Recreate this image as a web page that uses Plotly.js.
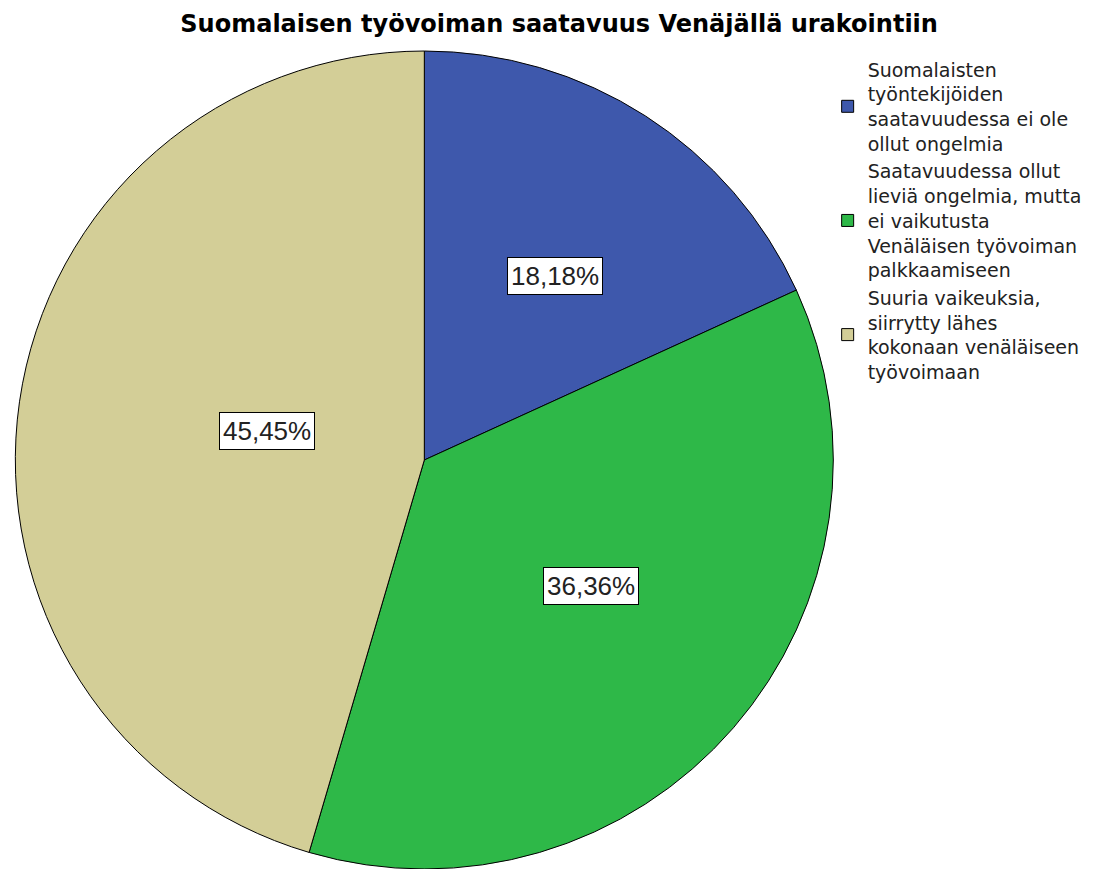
<!DOCTYPE html>
<html>
<head>
<meta charset="utf-8">
<script src="https://cdn.plot.ly/plotly-3.0.1.min.js"></script>
<style>html,body{margin:0;padding:0;background:#fff;}#chart{width:1105px;height:869px;}</style>
</head>
<body>
<div id="chart"></div>
<script>
const categories = [
  "Suomalaisten<br>työntekijöiden<br>saatavuudessa ei ole<br>ollut ongelmia",
  "Saatavuudessa ollut<br>lieviä ongelmia, mutta<br>ei vaikutusta<br>Venäläisen työvoiman<br>palkkaamiseen",
  "Suuria vaikeuksia,<br>siirrytty lähes<br>kokonaan venäläiseen<br>työvoimaan"
];
const counts = [2, 4, 5];
const colors = ["#3e58ac", "#2eb848", "#d3ce97"];

const W = 1105, H = 869;
const dom = {x: [0.0105, 0.7575], y: [0.0, 0.9413]};
const cx = (dom.x[0] + dom.x[1]) / 2 * W;
const cyFromBottom = (dom.y[0] + dom.y[1]) / 2 * H;
const R = Math.min((dom.x[1] - dom.x[0]) * W, (dom.y[1] - dom.y[0]) * H) / 2;

const total = counts.reduce((a, b) => a + b, 0);
const annotations = [];
let cum = 0;
counts.forEach((v, i) => {
  const frac = v / total;
  const theta = frac * 2 * Math.PI;
  const mid = (cum + frac / 2) * 2 * Math.PI;
  const dc = (2 / 3) * R * Math.sin(theta / 2) / (theta / 2);
  const d = (dc + 0.55 * R) / 2;
  const px = cx + d * Math.sin(mid);
  const py = cyFromBottom + d * Math.cos(mid);
  annotations.push({
    x: px / W, y: py / H, xref: "paper", yref: "paper",
    text: (frac * 100).toFixed(2).replace(".", ",") + "%",
    showarrow: false,
    font: {family: "Liberation Sans, Arial, sans-serif", size: 26, color: "#222"},
    bgcolor: "#ffffff", bordercolor: "#000000", borderwidth: 1, borderpad: 3
  });
  cum += frac;
});

const data = [{
  type: "pie",
  labels: categories,
  values: counts,
  sort: false,
  direction: "clockwise",
  rotation: 0,
  marker: {colors: colors, line: {color: "#000000", width: 1}},
  textinfo: "none",
  hoverinfo: "label+percent",
  domain: dom
}];

const layout = {
  width: W, height: H,
  margin: {l: 0, r: 0, t: 0, b: 0},
  paper_bgcolor: "#ffffff",
  font: {family: "DejaVu Sans, sans-serif", color: "#000"},
  title: {
    text: "<b>Suomalaisen työvoiman saatavuus Venäjällä urakointiin</b>",
    font: {family: "DejaVu Sans, sans-serif", size: 24, color: "#000"},
    x: 0.506, xanchor: "center", y: 0.983, yanchor: "top"
  },
  showlegend: true,
  legend: {
    x: 0.749, xanchor: "left", y: 0.942, yanchor: "top",
    font: {family: "DejaVu Sans, sans-serif", size: 19, color: "#222"},
    valign: "middle", tracegroupgap: 0, itemwidth: 30, bgcolor: "rgba(0,0,0,0)"
  },
  annotations: annotations
};

Plotly.newPlot("chart", data, layout, {displayModeBar: false, staticPlot: true});
</script>
</body>
</html>
